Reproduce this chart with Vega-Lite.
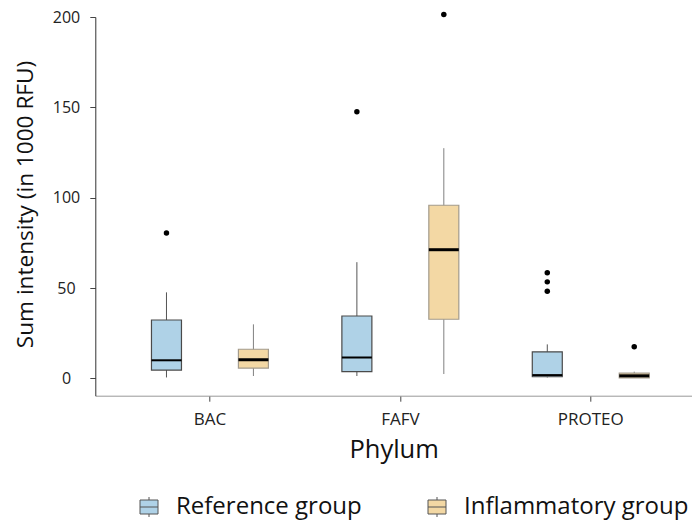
{
  "$schema": "https://vega.github.io/schema/vega-lite/v6.json",
  "width": 596.7,
  "height": 378.7,
  "autosize": {"type": "none"},
  "padding": {"left": 95.3, "top": 17, "right": 0, "bottom": 125.3},
  "config": {
    "view": {"stroke": null},
    "font": "Open Sans",
    "axisY": {
      "grid": false,
      "domainColor": "#333",
      "tickColor": "#444",
      "tickSize": 5.5,
      "labelAlign": "center",
      "labelPadding": 23.8,
      "labelFontSize": 16,
      "labelColor": "#222",
      "titleFontSize": 22.6,
      "titleFontWeight": "normal",
      "titleColor": "#111",
      "titleAngle": 270,
      "titleX": -70,
      "titleY": 187,
      "titleAlign": "center",
      "titleBaseline": "middle"
    },
    "axisX": {
      "grid": false,
      "domainColor": "#999",
      "tickColor": "#444",
      "tickSize": 5.5,
      "labelAngle": 0,
      "labelFontSize": 17,
      "labelColor": "#222",
      "labelBaseline": "alphabetic",
      "labelPadding": 22.8,
      "titleFontSize": 25.5,
      "titleFontWeight": "normal",
      "titleColor": "#111",
      "titleBaseline": "alphabetic",
      "titleY": 62
    },
    "legend": {
      "orient": "none",
      "direction": "horizontal",
      "legendX": 41.7,
      "legendY": 478,
      "symbolType": "M-0.9,-0.7H0.9V0.7H-0.9Z M-0.9,0H0.9 M0,-0.7V-1 M0,0.7V1",
      "symbolSize": 400,
      "symbolStrokeColor": "#555",
      "symbolStrokeWidth": 1,
      "labelFontSize": 24,
      "labelColor": "#111",
      "labelOffset": 15,
      "columnPadding": 63,
      "labelLimit": 0
    }
  },
  "datasets": {
    "boxes": [
      {"phylum": "BAC", "group": "Reference group", "lower": 0.5, "q1": 4.6, "median": 10.0, "q3": 32.3, "upper": 47.6},
      {"phylum": "BAC", "group": "Inflammatory group", "lower": 1.3, "q1": 5.7, "median": 10.3, "q3": 16.1, "upper": 29.9},
      {"phylum": "FAFV", "group": "Reference group", "lower": 1.3, "q1": 3.7, "median": 11.6, "q3": 34.5, "upper": 64.3},
      {"phylum": "FAFV", "group": "Inflammatory group", "lower": 2.4, "q1": 32.7, "median": 71.2, "q3": 95.8, "upper": 127.4},
      {"phylum": "PROTEO", "group": "Reference group", "lower": 0.5, "q1": 0.9, "median": 1.8, "q3": 14.7, "upper": 18.8},
      {"phylum": "PROTEO", "group": "Inflammatory group", "lower": 0.2, "q1": 0.3, "median": 1.4, "q3": 2.9, "upper": 3.7}
    ],
    "outliers": [
      {"phylum": "BAC", "group": "Reference group", "value": 80.5},
      {"phylum": "FAFV", "group": "Reference group", "value": 147.5},
      {"phylum": "FAFV", "group": "Inflammatory group", "value": 201.4},
      {"phylum": "PROTEO", "group": "Reference group", "value": 58.5},
      {"phylum": "PROTEO", "group": "Reference group", "value": 53.4},
      {"phylum": "PROTEO", "group": "Reference group", "value": 48.2},
      {"phylum": "PROTEO", "group": "Inflammatory group", "value": 17.5}
    ]
  },
  "encoding": {
    "x": {
      "field": "phylum",
      "type": "nominal",
      "title": "Phylum",
      "scale": {"domain": ["BAC", "FAFV", "PROTEO"], "paddingInner": 0, "paddingOuter": 0.0669, "align": 0.763}
    },
    "xOffset": {
      "field": "group",
      "type": "nominal",
      "scale": {"domain": ["Reference group", "Inflammatory group"], "paddingInner": 0, "paddingOuter": 0.095}
    }
  },
  "layer": [
    {
      "data": {"name": "boxes"},
      "transform": [{"filter": "datum.group === 'Reference group'"}],
      "mark": {"type": "rule", "strokeWidth": 1, "color": "#555555"},
      "encoding": {
        "y": {"field": "lower", "type": "quantitative", "title": "Sum intensity (in 1000 RFU)", "scale": {"domain": [-9.6, 200], "nice": false, "zero": false}, "axis": {"values": [0, 50, 100, 150, 200]}},
        "y2": {"field": "upper"}
      }
    },
    {
      "data": {"name": "boxes"},
      "transform": [{"filter": "datum.group === 'Inflammatory group'"}],
      "mark": {"type": "rule", "strokeWidth": 1, "color": "#808080"},
      "encoding": {
        "y": {"field": "lower", "type": "quantitative", "title": "Sum intensity (in 1000 RFU)"},
        "y2": {"field": "upper"}
      }
    },
    {
      "data": {"name": "boxes"},
      "transform": [{"filter": "datum.group === 'Reference group'"}],
      "mark": {"type": "bar", "width": 30, "strokeWidth": 1.2, "stroke": "#4a4a4a"},
      "encoding": {
        "y": {"field": "q1", "type": "quantitative", "title": "Sum intensity (in 1000 RFU)"},
        "y2": {"field": "q3"},
        "fill": {"field": "group", "type": "nominal", "title": null, "scale": {"domain": ["Reference group", "Inflammatory group"], "range": ["#afd2e7", "#f3d8a4"]}}
      }
    },
    {
      "data": {"name": "boxes"},
      "transform": [{"filter": "datum.group === 'Inflammatory group'"}],
      "mark": {"type": "bar", "width": 30, "strokeWidth": 1.2, "stroke": "#a39b8c"},
      "encoding": {
        "y": {"field": "q1", "type": "quantitative", "title": "Sum intensity (in 1000 RFU)"},
        "y2": {"field": "q3"},
        "fill": {"field": "group", "type": "nominal", "title": null}
      }
    },
    {
      "data": {"name": "boxes"},
      "transform": [{"filter": "datum.group === 'Reference group'"}],
      "mark": {"type": "tick", "size": 30, "thickness": 2, "color": "#000", "opacity": 1},
      "encoding": {
        "y": {"field": "median", "type": "quantitative", "title": "Sum intensity (in 1000 RFU)"}
      }
    },
    {
      "data": {"name": "boxes"},
      "transform": [{"filter": "datum.group === 'Inflammatory group'"}],
      "mark": {"type": "tick", "size": 30, "thickness": 3, "color": "#000", "opacity": 1},
      "encoding": {
        "y": {"field": "median", "type": "quantitative", "title": "Sum intensity (in 1000 RFU)"}
      }
    },
    {
      "data": {"name": "outliers"},
      "mark": {"type": "point", "filled": true, "color": "#000", "opacity": 1, "size": 30},
      "encoding": {
        "y": {"field": "value", "type": "quantitative", "title": "Sum intensity (in 1000 RFU)"}
      }
    }
  ]
}
